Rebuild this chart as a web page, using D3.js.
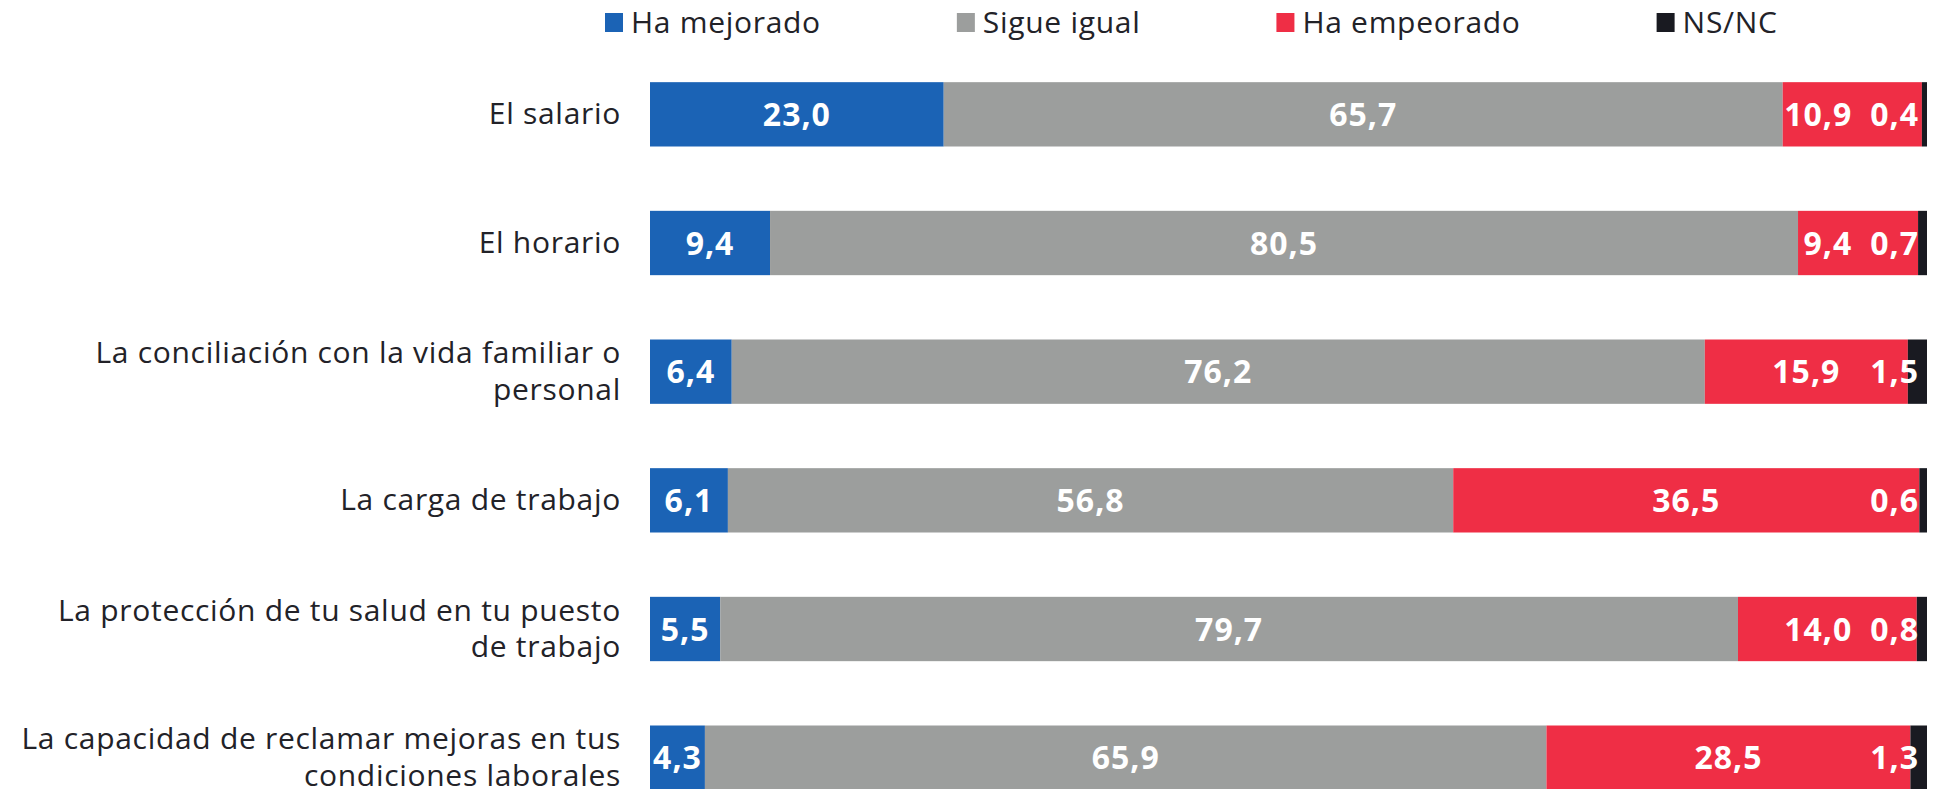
<!DOCTYPE html>
<html>
<head>
<meta charset="utf-8">
<script src="https://cdn.jsdelivr.net/npm/d3@7"></script>
<style>
  body { margin: 0; background: #fff; }
  text { font-family: "Open Sans", sans-serif; }
</style>
</head>
<body>
<div id="chart"></div>
<script>
// data
var categories = [
  "El salario",
  "El horario",
  "La conciliación con la vida familiar o\npersonal",
  "La carga de trabajo",
  "La protección de tu salud en tu puesto\nde trabajo",
  "La capacidad de reclamar mejoras en tus\ncondiciones laborales"
];
var seriesNames = ["Ha mejorado", "Sigue igual", "Ha empeorado", "NS/NC"];
var mejorado  = [23.0, 9.4, 6.4, 6.1, 5.5, 4.3];
var igual     = [65.7, 80.5, 76.2, 56.8, 79.7, 65.9];
var empeorado = [10.9, 9.4, 15.9, 36.5, 14.0, 28.5];
var nsnc      = [0.4, 0.7, 1.5, 0.6, 0.8, 1.3];
var colors = ["#1b63b5", "#9c9e9d", "#ef2e45", "#191a21"];

(function() {
  var width = 1933,
      height = 789;

  var svg = d3.select("#chart")
    .append("svg")
    .attr("width", width)
    .attr("height", height);

  var rows = categories.map(function(c, i) {
    return {cat: c, "Ha mejorado": mejorado[i], "Sigue igual": igual[i],
            "Ha empeorado": empeorado[i], "NS/NC": nsnc[i]};
  });

  var stack = d3.stack().keys(seriesNames);
  var layers = stack(rows);

  var x = d3.scaleLinear().domain([0, 100]).range([650, 1927]);
  var y = d3.scaleBand()
    .domain(categories)
    .range([50, 822])
    .paddingInner(0.5)
    .paddingOuter(0.25);
  var color = d3.scaleOrdinal().domain(seriesNames).range(colors);

  var fmt = d3.formatLocale({decimal: ",", thousands: ".", grouping: [3], currency: ["", "€"]}).format(".1f");

  // bars
  svg.selectAll(".layer")
    .data(layers)
    .enter().append("g")
    .attr("class", "layer")
    .attr("fill", function(d) { return color(d.key); })
    .selectAll("rect")
    .data(function(d) { return d; })
    .enter().append("rect")
    .attr("x", function(d) { return x(d[0]); })
    .attr("y", function(d) { return y(d.data.cat); })
    .attr("width", function(d) { return x(d[1]) - x(d[0]); })
    .attr("height", y.bandwidth());

  // category labels
  var catG = svg.append("g");
  categories.forEach(function(c) {
    var lines = c.split("\n");
    var cy = y(c) + y.bandwidth() / 2;
    var t = catG.append("text")
      .attr("text-anchor", "end")
      .attr("font-size", 30)
      .attr("letter-spacing", "0.7px")
      .attr("fill", "#222228");
    lines.forEach(function(l, j) {
      t.append("tspan")
        .attr("x", x(0) - 29)
        .attr("y", cy + 10 + (j - (lines.length - 1) / 2) * 36.5)
        .text(l);
    });
  });

  // value labels
  var labG = svg.append("g");
  rows.forEach(function(r, i) {
    var cy = y(r.cat) + y.bandwidth() / 2;
    var ls = layers.map(function(L) { return L[i]; });

    function addLabel(k) {
      return labG.append("text")
        .attr("y", cy)
        .attr("dy", "0.36em")
        .attr("font-size", 32)
        .attr("font-weight", 700)
        .attr("letter-spacing", "1px")
        .attr("fill", "#fff")
        .text(fmt(ls[k].data[seriesNames[k]]));
    }

    // blue and grey: centered
    for (var k = 0; k < 2; k++) {
      addLabel(k)
        .attr("text-anchor", "middle")
        .attr("x", (x(ls[k][0]) + x(ls[k][1])) / 2);
    }
    // NS/NC: pulled inside the right edge
    var ns = addLabel(3).attr("text-anchor", "end").attr("x", x(100) - 8);
    var nsLeft = x(100) - 8 - ns.node().getComputedTextLength();

    // red: centered, shifted left if it runs into the NS/NC label
    var red = addLabel(2).attr("text-anchor", "middle");
    var w = red.node().getComputedTextLength();
    var cx = (x(ls[2][0]) + x(ls[2][1])) / 2;
    if (cx + w / 2 > nsLeft - 18) cx = nsLeft - 18 - w / 2;
    red.attr("x", cx);
  });

  // legend
  var legend = svg.append("g");
  var lx = 605;
  seriesNames.forEach(function(s) {
    legend.append("rect")
      .attr("x", lx)
      .attr("y", 13)
      .attr("width", 18)
      .attr("height", 19)
      .attr("fill", color(s));
    var t = legend.append("text")
      .attr("x", lx + 26)
      .attr("y", 22.5)
      .attr("dy", "0.36em")
      .attr("font-size", 30)
      .attr("letter-spacing", "0.7px")
      .attr("fill", "#222228")
      .text(s);
    lx = lx + 26 + t.node().getComputedTextLength() + 136;
  });
})();
</script>
</body>
</html>
